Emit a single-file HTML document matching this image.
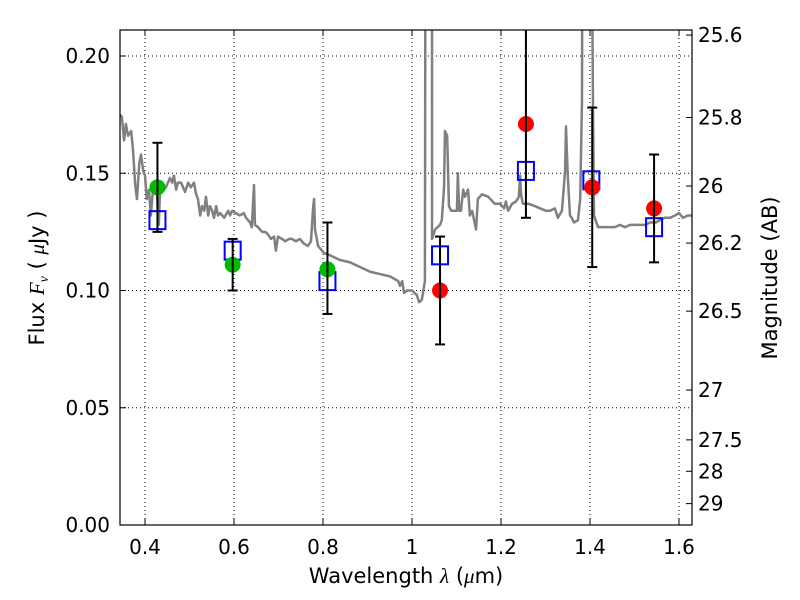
<!DOCTYPE html>
<html><head><meta charset="utf-8"><style>
html,body{margin:0;padding:0;background:#fff;}
svg{display:block;font-family:"DejaVu Sans","Liberation Sans",sans-serif;}
</style></head><body>
<svg id="chart" width="800" height="600" viewBox="0 0 800 600" xmlns="http://www.w3.org/2000/svg">
<rect width="800" height="600" fill="#fff"/>
<defs><clipPath id="clip"><rect x="120" y="30" width="572" height="495"/></clipPath></defs>
<g id="grid"></g>
<g id="plot" clip-path="url(#clip)"></g>
<g id="axes"></g>
<text x="406" y="583" text-anchor="middle" font-size="21">Wavelength  <tspan font-family="Liberation Serif" font-style="italic">λ</tspan> (<tspan font-family="Liberation Serif" font-style="italic">μ</tspan>m)</text>
<text transform="translate(44,278) rotate(-90)" text-anchor="middle" font-size="21">Flux  <tspan font-family="Liberation Serif" font-style="italic">F</tspan><tspan font-family="Liberation Serif" font-style="italic" font-size="14" dy="4">ν</tspan><tspan dy="-4">  ( </tspan><tspan font-family="Liberation Serif" font-style="italic">μ</tspan>Jy )</text>
<text transform="translate(777,278) rotate(-90)" text-anchor="middle" font-size="21">Magnitude (AB)</text>
</svg>
<script>
const specWl=[0.344,0.348,0.353,0.357,0.362,0.369,0.373,0.378,0.382,0.387,0.391,0.396,0.400,0.404,0.409,0.413,0.418,0.422,0.427,0.431,0.434,0.438,0.443,0.447,0.456,0.461,0.465,0.470,0.474,0.481,0.490,0.497,0.503,0.510,0.515,0.519,0.524,0.528,0.533,0.537,0.542,0.546,0.551,0.555,0.560,0.564,0.569,0.578,0.587,0.591,0.596,0.604,0.613,0.622,0.627,0.636,0.640,0.645,0.647,0.654,0.663,0.670,0.676,0.683,0.690,0.694,0.699,0.708,0.715,0.724,0.730,0.739,0.748,0.757,0.766,0.773,0.778,0.780,0.782,0.789,0.802,0.816,0.838,0.861,0.883,0.906,0.928,0.951,0.969,0.973,0.978,0.982,0.989,1.000,1.011,1.016,1.022,1.029,1.031,1.045,1.045,1.052,1.063,1.067,1.072,1.074,1.079,1.083,1.088,1.097,1.101,1.103,1.106,1.110,1.115,1.119,1.126,1.130,1.135,1.144,1.148,1.157,1.171,1.186,1.198,1.207,1.211,1.216,1.225,1.234,1.240,1.243,1.245,1.249,1.261,1.276,1.288,1.301,1.310,1.321,1.328,1.337,1.344,1.346,1.350,1.355,1.359,1.364,1.373,1.378,1.382,1.384,1.400,1.407,1.409,1.418,1.434,1.445,1.456,1.467,1.479,1.490,1.508,1.524,1.535,1.548,1.557,1.568,1.580,1.591,1.600,1.609,1.620,1.629];
const specFlux=[0.175,0.174,0.164,0.171,0.166,0.168,0.160,0.145,0.139,0.154,0.158,0.151,0.149,0.139,0.143,0.132,0.143,0.143,0.141,0.128,0.143,0.146,0.143,0.144,0.148,0.146,0.149,0.143,0.146,0.146,0.142,0.146,0.144,0.146,0.141,0.139,0.132,0.136,0.134,0.140,0.132,0.136,0.134,0.131,0.136,0.132,0.133,0.131,0.134,0.132,0.134,0.133,0.132,0.133,0.131,0.129,0.127,0.145,0.128,0.127,0.125,0.125,0.124,0.122,0.123,0.117,0.123,0.122,0.121,0.122,0.122,0.121,0.122,0.120,0.119,0.121,0.136,0.139,0.126,0.119,0.116,0.115,0.113,0.112,0.110,0.108,0.107,0.106,0.104,0.102,0.104,0.099,0.100,0.100,0.098,0.095,0.096,0.104,0.35,0.35,0.122,0.126,0.128,0.130,0.144,0.168,0.166,0.136,0.134,0.134,0.134,0.150,0.134,0.134,0.143,0.140,0.143,0.132,0.134,0.126,0.139,0.141,0.140,0.137,0.137,0.135,0.138,0.134,0.137,0.138,0.140,0.149,0.141,0.137,0.137,0.136,0.135,0.134,0.134,0.135,0.131,0.134,0.151,0.170,0.149,0.132,0.131,0.129,0.130,0.139,0.181,0.35,0.35,0.173,0.132,0.127,0.127,0.127,0.127,0.128,0.127,0.128,0.128,0.128,0.129,0.129,0.130,0.131,0.131,0.132,0.133,0.131,0.132,0.132];
const greenWl=[0.428,0.597,0.810];
const greenFlux=[0.144,0.111,0.109];
const redWl=[1.063,1.256,1.405,1.544];
const redFlux=[0.100,0.171,0.144,0.135];
const sqWl=[0.428,0.597,0.810,1.063,1.256,1.403,1.544];
const sqFlux=[0.130,0.117,0.104,0.115,0.151,0.147,0.127];
const errWl=[0.428,0.597,0.810,1.063,1.256,1.405,1.544];
const errLo=[0.125,0.100,0.090,0.077,0.131,0.110,0.112];
const errHi=[0.163,0.122,0.129,0.123,0.240,0.178,0.158];
const xTicks=[0.4,0.6,0.8,1.0,1.2,1.4,1.6];
const xTickLabels=["0.4","0.6","0.8","1","1.2","1.4","1.6"];
const yTicks=[0,0.05,0.10,0.15,0.20];
const yTickLabels=["0.00","0.05","0.10","0.15","0.20"];
const magTicks=[25.6,25.8,26,26.2,26.5,27,27.5,28,29];
const magTickLabels=["25.6","25.8","26","26.2","26.5","27","27.5","28","29"];

const X=v=>145+(v-0.4)*445;
const Y=v=>525-v*2345;
const NS="http://www.w3.org/2000/svg";
function mk(tag,attrs,parent){const e=document.createElementNS(NS,tag);for(const k in attrs)e.setAttribute(k,attrs[k]);parent.appendChild(e);return e;}
const grid=document.getElementById('grid'),plot=document.getElementById('plot'),axes=document.getElementById('axes');

xTicks.forEach((t,i)=>{
  const g=mk('line',{x1:X(t),x2:X(t),y1:30,y2:525,stroke:'#000','stroke-width':1,'stroke-dasharray':'1,3'},grid);
  
  
  mk('line',{x1:X(t),x2:X(t),y1:525,y2:519,stroke:'#000'},axes);
  mk('line',{x1:X(t),x2:X(t),y1:30,y2:36,stroke:'#000'},axes);
  const l=mk('text',{x:X(t),y:554,'text-anchor':'middle','font-size':20},axes);
  l.textContent=xTickLabels[i];
  
  
});
yTicks.forEach((t,i)=>{
  const g=mk('line',{x1:120,x2:692,y1:Y(t),y2:Y(t),stroke:'#000','stroke-width':1,'stroke-dasharray':'1,3'},grid);
  
  
  mk('line',{x1:120,x2:126,y1:Y(t),y2:Y(t),stroke:'#000'},axes);
  const l=mk('text',{x:110,y:Y(t)+7,'text-anchor':'end','font-size':20},axes);
  l.textContent=yTickLabels[i];
  
  
});
magTicks.forEach((m,i)=>{
  const f=Math.pow(10,(23.9-m)/2.5);
  const y=Y(f);
  mk('line',{x1:686,x2:692,y1:y,y2:y,stroke:'#000'},axes);
  const l=mk('text',{x:698,y:y+7,'font-size':20},axes);
  l.textContent=magTickLabels[i];
  
  
});
mk('rect',{x:120,y:30,width:572,height:495,fill:'none',stroke:'#000','stroke-width':1.2},axes);

const sp=mk('polyline',{points:specWl.map((w,i)=>X(w)+','+Y(specFlux[i])).join(' '),fill:'none',stroke:'#808080','stroke-width':2.5,'stroke-linejoin':'round'},plot);



sqWl.forEach((w,i)=>{
  const r=mk('rect',{x:X(w)-8,y:Y(sqFlux[i])-9,width:16,height:18,fill:'none',stroke:'#0000ff','stroke-width':2},plot);
  
  
});
greenWl.forEach((w,i)=>{
  const c=mk('circle',{cx:X(w),cy:Y(greenFlux[i]),r:8,fill:'#00bb00'},plot);
  
  
});
redWl.forEach((w,i)=>{
  const c=mk('circle',{cx:X(w),cy:Y(redFlux[i]),r:8,fill:'#ff0000'},plot);
  
  
});
errWl.forEach((w,i)=>{
  const g=mk('g',{stroke:'#000','stroke-width':2},plot);
  
  
  const x=X(w);
  mk('line',{x1:x,x2:x,y1:Y(errLo[i]),y2:Y(errHi[i])},g);
  mk('line',{x1:x-5,x2:x+5,y1:Y(errLo[i]),y2:Y(errLo[i])},g);
  mk('line',{x1:x-5,x2:x+5,y1:Y(errHi[i]),y2:Y(errHi[i])},g);
});
</script>
</body></html>
